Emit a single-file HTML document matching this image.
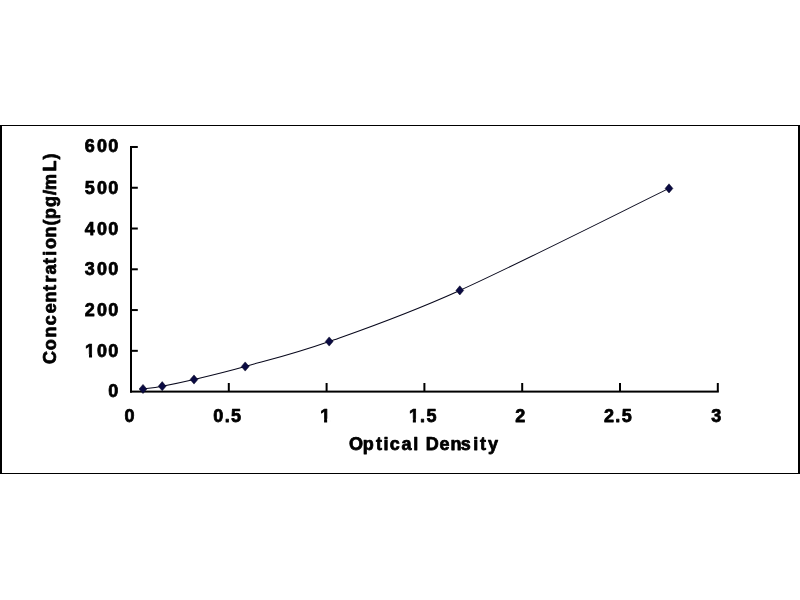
<!DOCTYPE html>
<html><head><meta charset="utf-8"><title>Standard Curve</title>
<style>
html,body{margin:0;padding:0;background:#fff;}
body{width:800px;height:600px;overflow:hidden;}
svg{display:block;filter:blur(0.45px);}
text{font-family:"Liberation Sans",Arial,Helvetica,sans-serif;font-weight:bold;font-size:18px;fill:#000;stroke:#000;stroke-width:0.75px;stroke-linejoin:round;}
</style></head><body>
<svg width="800" height="600" viewBox="0 0 800 600">
<rect x="0" y="125" width="2" height="349" fill="#000"/>
<rect x="798" y="125" width="2" height="349" fill="#000"/>
<rect x="0" y="125" width="800" height="1" fill="#000"/>
<rect x="0" y="473" width="800" height="1" fill="#000"/>
<rect x="130" y="146" width="2" height="246.6" fill="#000"/>
<rect x="130" y="390.6" width="588.8" height="2" fill="#000"/>
<rect x="131" y="349.83" width="6.8" height="2" fill="#000"/>
<rect x="131" y="309.06" width="6.8" height="2" fill="#000"/>
<rect x="131" y="268.29" width="6.8" height="2" fill="#000"/>
<rect x="131" y="227.52" width="6.8" height="2" fill="#000"/>
<rect x="131" y="186.75" width="6.8" height="2" fill="#000"/>
<rect x="131" y="145.98" width="6.8" height="2" fill="#000"/>
<rect x="227.80" y="383" width="2" height="8.5" fill="#000"/>
<rect x="325.60" y="383" width="2" height="8.5" fill="#000"/>
<rect x="423.40" y="383" width="2" height="8.5" fill="#000"/>
<rect x="521.20" y="383" width="2" height="8.5" fill="#000"/>
<rect x="619.00" y="383" width="2" height="8.5" fill="#000"/>
<rect x="716.80" y="383" width="2" height="8.5" fill="#000"/>
<path d="M143.00,389.00 C146.20,388.53 153.70,387.78 162.20,386.20 C170.70,384.62 180.17,382.78 194.00,379.50 C207.83,376.22 222.67,372.83 245.20,366.50 C267.73,360.17 293.43,354.18 329.20,341.50 C364.97,328.82 403.17,315.92 459.80,290.40 C516.43,264.88 634.13,205.40 669.00,188.40" fill="none" stroke="#08081c" stroke-width="1.05"/>
<path d="M143.00,384.40 l3.9,4.6 l-3.9,4.6 l-3.9,-4.6 z" fill="#0a0a42" stroke="#05051e" stroke-width="0.5"/>
<path d="M162.20,381.60 l3.9,4.6 l-3.9,4.6 l-3.9,-4.6 z" fill="#0a0a42" stroke="#05051e" stroke-width="0.5"/>
<path d="M194.00,374.90 l3.9,4.6 l-3.9,4.6 l-3.9,-4.6 z" fill="#0a0a42" stroke="#05051e" stroke-width="0.5"/>
<path d="M245.20,361.90 l3.9,4.6 l-3.9,4.6 l-3.9,-4.6 z" fill="#0a0a42" stroke="#05051e" stroke-width="0.5"/>
<path d="M329.20,336.90 l3.9,4.6 l-3.9,4.6 l-3.9,-4.6 z" fill="#0a0a42" stroke="#05051e" stroke-width="0.5"/>
<path d="M459.80,285.80 l3.9,4.6 l-3.9,4.6 l-3.9,-4.6 z" fill="#0a0a42" stroke="#05051e" stroke-width="0.5"/>
<path d="M669.00,183.80 l3.9,4.6 l-3.9,4.6 l-3.9,-4.6 z" fill="#0a0a42" stroke="#05051e" stroke-width="0.5"/>
<text class="t" x="108.29" y="397.00">0</text>
<text class="t" x="85.08 96.88 108.29" y="357.00">100</text>
<text class="t" x="84.68 96.88 108.29" y="315.65">200</text>
<text class="t" x="84.68 96.88 108.29" y="274.80">300</text>
<text class="t" x="84.68 96.88 108.29" y="234.50">400</text>
<text class="t" x="84.68 96.88 108.29" y="193.80">500</text>
<text class="t" x="84.68 96.88 108.29" y="152.30">600</text>
<text class="t" x="124.50" y="421.60">0</text>
<text class="t" x="213.26 224.66 231.07" y="421.60">0.5</text>
<text class="t" x="320.18" y="421.60">1</text>
<text class="t" x="408.94 419.99 426.40" y="421.60">1.5</text>
<text class="t" x="515.16" y="421.60">2</text>
<text class="t" x="603.92 615.32 621.73" y="421.60">2.5</text>
<text class="t" x="711.19" y="421.60">3</text>
<rect x="84.88" y="354.10" width="4.10" height="4.5" fill="#fff"/>
<rect x="92.05" y="354.10" width="3.75" height="4.5" fill="#fff"/>
<rect x="319.98" y="418.70" width="4.10" height="4.5" fill="#fff"/>
<rect x="327.15" y="418.70" width="3.75" height="4.5" fill="#fff"/>
<rect x="408.74" y="418.70" width="4.10" height="4.5" fill="#fff"/>
<rect x="415.90" y="418.70" width="3.75" height="4.5" fill="#fff"/>
<text class="t2" y="450.4" x="349.00 362.73 375.95 383.42 389.65 401.38 413.37 419.60 425.83 439.55 450.53 460.75 473.23 479.97 487.93">Optical Density</text>
<text class="t2" y="0" x="-1.40 12.41 25.27 37.43 49.46 60.08 71.59 80.20 88.13 98.65 107.06 113.59 125.20 137.31 143.82 155.73 167.64 172.66 191.29 203.20" transform="translate(55.7 362.7) rotate(-90)">Concentration(pg/mL)</text>
</svg>
</body></html>
